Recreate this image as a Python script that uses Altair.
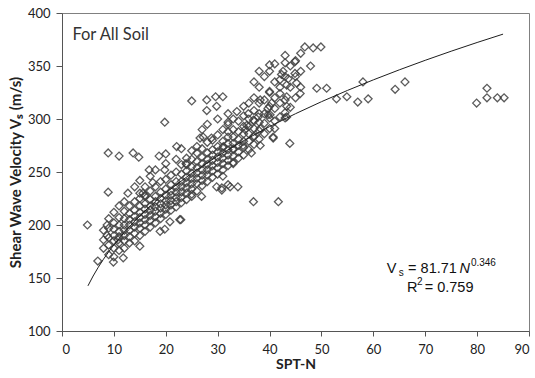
import altair as alt
import pandas as pd

# ---- data ----
# scattered / isolated points (SPT-N, Vs)
out_n = [4.9, 6.9, 8.7, 8.7, 9.9, 11.8, 10.8, 15, 18.9, 20.8, 22.7, 22.9, 19.8, 25, 26.9, 31, 33.9, 29.8, 30.8, 32,
         8.9, 11, 13.7, 14.8, 18.7, 20, 22.1, 16.8, 19.8, 23.9, 8.9, 12.7, 15.6, 27.2, 26, 32, 33.7, 25, 27.9, 29.6,
         31, 29.8, 27.9, 19.8, 15, 17.5, 16,
         40, 42.3, 43.3, 43, 38.2, 40, 40.4, 42, 43.3, 40.1, 41, 43.3, 37.8, 35.6, 43.9, 40.7, 38.2, 23, 26.6, 28.8,
         31.1, 33, 34.9, 36.9, 24, 30.8, 32.4,
         46.8, 48.4, 49.9, 47.9, 44.9, 42.6, 44.9, 43.6, 42, 45.2, 49.1, 51, 45.9, 43.3, 52.9, 54.9, 57, 59, 58, 64.2,
         43, 39.7, 39.7, 35.9, 32, 35.3, 36.9, 38.2, 40.7, 33, 36.5, 36.9, 41.7,
         66.1, 79.9, 81.9, 81.9, 83.9, 85.2]
out_vs = [200, 166, 200, 190, 165, 169, 186, 180, 194, 203, 205, 205, 196, 227, 227, 246, 236, 236, 233, 238,
          268, 265, 268, 264, 265, 267, 274, 252, 252, 258, 231, 230, 230, 283, 274, 297, 307, 317, 318, 321,
          321, 312, 308, 297, 230, 240, 228,
          351, 342, 332, 353, 318, 326, 315, 324, 312, 304, 291, 302, 302, 294, 277, 282, 275, 272, 282, 282,
          274, 272, 275, 283, 257, 235, 236,
          368, 367, 368, 350, 354, 345, 343, 338, 337, 334, 329, 329, 324, 321, 319, 321, 316, 319, 335, 328,
          301, 310, 304, 305, 288, 290, 299, 291, 283, 258, 268, 222, 222,
          335, 315, 329, 320, 320, 320]

# dense band of points: SPT-N -> list of Vs values
band = {
    8: [178, 186, 195],
    9: [172, 181, 188, 197, 206],
    10: [170, 178, 185, 190, 196, 202, 212],
    11: [176, 183, 189, 194, 200, 207, 218],
    12: [178, 185, 190, 195, 200, 206, 213, 222],
    13: [183, 189, 195, 200, 205, 211, 218],
    14: [185, 192, 198, 203, 208, 214, 222, 236],
    15: [190, 197, 202, 207, 212, 218, 225, 242],
    16: [194, 200, 205, 210, 215, 220, 227, 236],
    17: [198, 204, 209, 214, 218, 224, 232, 246],
    18: [202, 208, 213, 217, 222, 227, 236, 252],
    19: [206, 211, 216, 220, 225, 231, 241],
    20: [210, 215, 219, 223, 228, 234, 243, 258],
    21: [214, 219, 223, 228, 232, 238, 247],
    22: [217, 222, 226, 231, 236, 241, 250, 262],
    23: [221, 226, 231, 236, 241, 248, 257],
    24: [224, 230, 235, 240, 245, 251, 263],
    25: [229, 234, 239, 244, 249, 255, 262, 270],
    26: [232, 239, 244, 249, 254, 260, 268],
    27: [237, 242, 247, 252, 258, 264, 272, 290],
    28: [241, 247, 252, 257, 262, 268, 278, 295],
    29: [245, 251, 256, 261, 266, 271, 280],
    30: [248, 254, 259, 264, 269, 274, 285, 300],
    31: [252, 258, 263, 268, 273, 279, 290],
    32: [256, 261, 266, 271, 277, 283, 295, 305],
    33: [259, 265, 271, 277, 283, 290, 300],
    34: [263, 269, 275, 281, 288, 298],
    35: [266, 273, 279, 286, 293, 303, 312],
    36: [271, 279, 286, 293, 300, 315],
    37: [276, 284, 291, 298, 308, 320, 335],
    38: [281, 289, 297, 305, 315, 330, 345],
    39: [286, 296, 305, 318, 340],
    40: [291, 301, 312, 325, 345],
    41: [298, 310, 320, 335, 352],
    42: [302, 315, 330],
    43: [306, 318, 340, 360],
    44: [311, 330, 350],
    45: [320, 340, 355],
    46: [330, 345, 362],
}

# fitted curve Vs = a * N^b (coefficients printed on the chart)
fit_a = 81.71
fit_b = 0.346
curve_n = [5, 6, 7, 8, 9, 10, 12, 14, 16, 18, 20, 25, 30, 35, 40, 45, 50, 55, 60, 65, 70, 75, 80, 85]

x_ticks = [0, 10, 20, 30, 40, 50, 60, 70, 80, 90]
y_ticks = [100, 150, 200, 250, 300, 350, 400]

# ---- tables ----
pts_n = list(out_n)
pts_vs = list(out_vs)
for n, vals in band.items():
    for v in vals:
        pts_n.append(n)
        pts_vs.append(v)
pts = pd.DataFrame({"N": pts_n, "Vs": pts_vs})
curve = pd.DataFrame({"N": curve_n})

xs = alt.Scale(domain=[0, 90], nice=False, zero=False)
ys = alt.Scale(domain=[100, 400], nice=False, zero=False)

points = alt.Chart(pts).mark_point(
    shape="diamond", filled=False, size=62, strokeWidth=1.3, color="#3f3f3f", opacity=0.85
).encode(
    x=alt.X("N:Q", scale=xs,
            axis=alt.Axis(values=x_ticks, title="SPT-N", grid=False, tickSize=5, labelPadding=7,
                          titleFontWeight="bold", titleFontSize=14, titlePadding=1)),
    y=alt.Y("Vs:Q", scale=ys,
            axis=alt.Axis(values=y_ticks, title="Shear Wave Velocity Vₛ (m/s)", grid=False, tickSize=6,
                          labelPadding=6, titleFontWeight="bold", titleFontSize=15, titlePadding=4)),
)

line = alt.Chart(curve).transform_calculate(
    Vs=f"{fit_a} * pow(datum.N, {fit_b})"
).mark_line(color="#1e1e1e", strokeWidth=1).encode(
    x=alt.X("N:Q", scale=xs), y=alt.Y("Vs:Q", scale=ys)
)

def label(txt, xv, yv, size=14.5, style="normal", font="Liberation Sans", align="left"):
    return alt.Chart(pd.DataFrame({"N": [xv], "Vs": [yv], "t": [txt]})).mark_text(
        align=align, baseline="alphabetic", fontSize=size, fontStyle=style, font=font, color="#111"
    ).encode(x=alt.X("N:Q", scale=xs), y=alt.Y("Vs:Q", scale=ys), text="t:N")

title_txt = alt.Chart(pd.DataFrame({"N": [2.0], "Vs": [379], "t": ["For All Soil"]})).mark_text(
    align="left", baseline="middle", fontSize=16.5, font="Lato", color="#333"
).encode(x=alt.X("N:Q", scale=xs), y=alt.Y("Vs:Q", scale=ys), text="t:N")

eq = [
    label("V", 62.6, 154.7),
    label("s", 64.9, 151.9, size=10),
    label("= 81.71", 66.7, 154.7),
    label("N", 76.6, 154.7, style="italic"),
    label("0.346", 78.8, 161.3, size=10),
    label("R", 66.5, 136.8),
    label("2", 68.4, 143.4, size=10),
    label("= 0.759", 69.9, 136.8),
]

chart = alt.layer(points, line, title_txt, *eq).properties(
    width=467, height=318,
    autosize=alt.AutoSizeParams(type="none"),
    padding={"left": 62, "top": 13, "right": 6, "bottom": 47},
).configure_view(
    stroke="#808080", strokeWidth=1
).configure_axis(
    labelFont="Lato", labelFontSize=13, labelColor="#222",
    titleFont="Lato", titleColor="#222",
    domainColor="#555", tickColor="#555", domainWidth=1,
)

chart.save("out.html", embed_options={"renderer": "svg", "actions": False})
